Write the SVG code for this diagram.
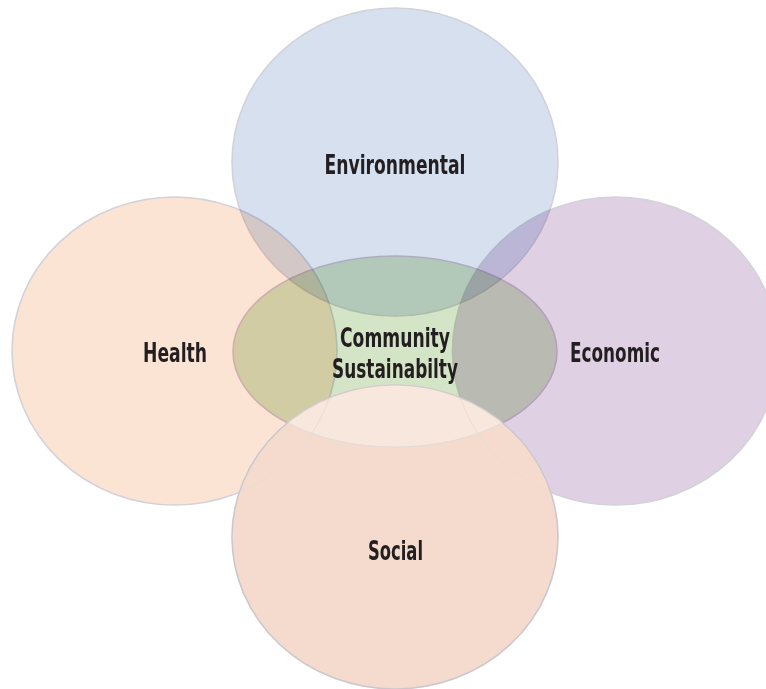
<svg xmlns="http://www.w3.org/2000/svg" width="766" height="689" viewBox="0 0 766 689">
<style>
.lbl{font-family:"DejaVu Sans Condensed","Liberation Sans Narrow","Liberation Sans",sans-serif;font-weight:bold;font-size:26px;fill:#231f20;text-anchor:middle}
.mul{mix-blend-mode:multiply}
.edge{stroke:#d2d2da;stroke-width:1.6}
</style>
<defs>
<clipPath id="socialClip"><ellipse cx="395" cy="537" rx="163" ry="152"/></clipPath>
</defs>
<rect width="766" height="689" fill="#ffffff"/>
<g style="isolation:isolate">
<g id="environmental">
<ellipse class="mul edge" cx="395" cy="162" rx="163" ry="154" fill="#d6e0ef"/>
</g>
<g id="health">
<ellipse class="mul edge" cx="174.5" cy="351" rx="162.5" ry="154" fill="#fce4d4"/>
</g>
<g id="economic">
<ellipse class="mul edge" cx="615.5" cy="351" rx="163" ry="154" fill="#dfd0e4"/>
</g>
<g id="community">
<ellipse class="mul" cx="395" cy="351.5" rx="162" ry="95.5" fill="#d4e4c6" stroke="#d0c4d0" stroke-width="1.6"/>
</g>
<g id="social">
<ellipse cx="395" cy="537" rx="163" ry="152" fill="#f4dbcd" stroke="#d4d2d6" stroke-width="1.6"/>
<g clip-path="url(#socialClip)">
<ellipse cx="395" cy="351.5" rx="162" ry="95.5" fill="#f8e7dd" stroke="#e4dcd8" stroke-width="1.2"/>
<ellipse cx="174.5" cy="351" rx="162.5" ry="154" fill="none" stroke="#eadbd2" stroke-width="1"/>
<ellipse cx="615.5" cy="351" rx="163" ry="154" fill="none" stroke="#eadbd2" stroke-width="1"/>
</g>
<ellipse cx="395" cy="537" rx="163" ry="152" fill="none" stroke="#c8c0c4" stroke-width="1.2" stroke-opacity="0.6"/>
</g>
</g>
<g id="labels">
<text class="lbl" x="395" y="174" textLength="141" lengthAdjust="spacingAndGlyphs">Environmental</text>
<text class="lbl" x="175" y="362" textLength="64" lengthAdjust="spacingAndGlyphs">Health</text>
<text class="lbl" x="615" y="362" textLength="90" lengthAdjust="spacingAndGlyphs">Economic</text>
<text class="lbl" x="395" y="347" textLength="110" lengthAdjust="spacingAndGlyphs">Community</text>
<text class="lbl" x="395" y="378" textLength="126" lengthAdjust="spacingAndGlyphs">Sustainabilty</text>
<text class="lbl" x="395.5" y="560" textLength="55" lengthAdjust="spacingAndGlyphs">Social</text>
</g>
</svg>
